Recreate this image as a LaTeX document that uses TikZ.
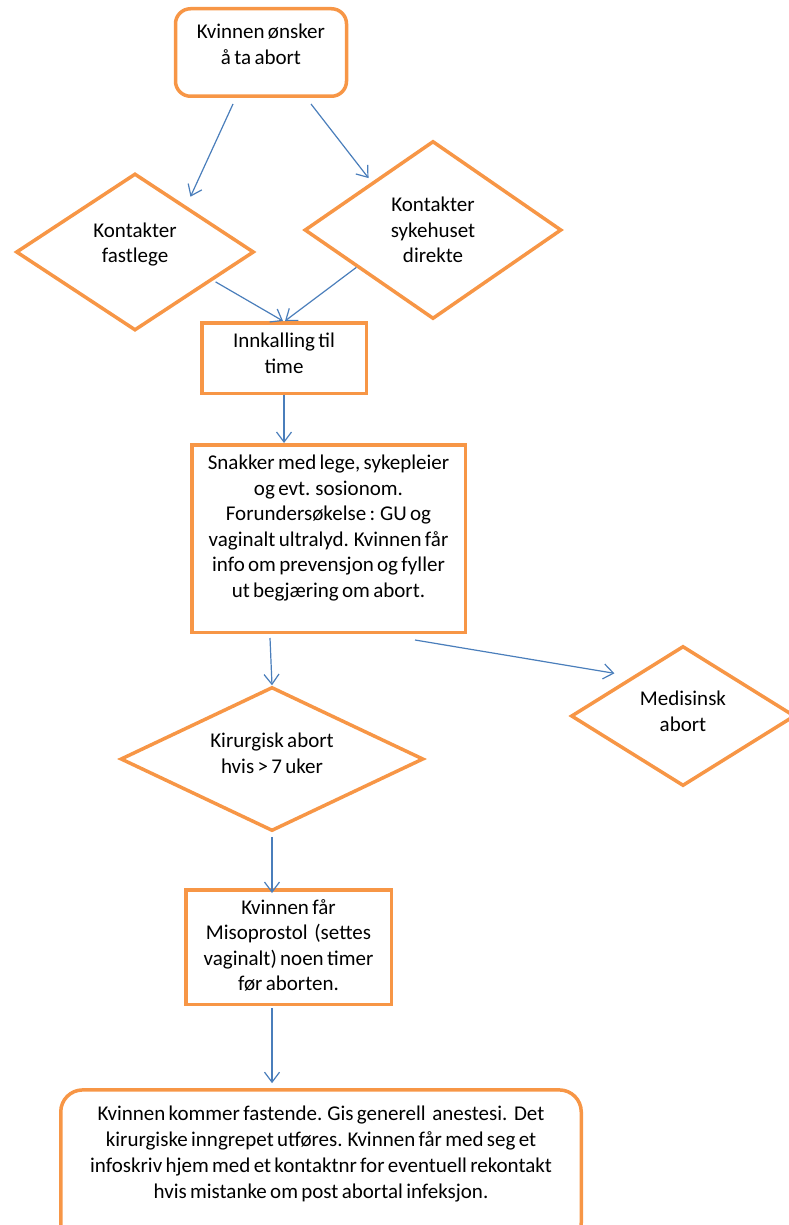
\documentclass[tikz,border=0pt]{standalone}
\usepackage{fontspec}
\setmainfont{Carlito}[WordSpace=0.7]
\usepackage{tikz}
\usetikzlibrary{shapes.geometric, arrows.meta, calc}
\definecolor{flowline}{HTML}{F79646}
\definecolor{flowarrow}{HTML}{4A7EBB}

\begin{document}
\begin{tikzpicture}[x=1pt, y=-1pt,
		>={Straight Barb[length=10pt,width=15pt]},
		box/.style={rectangle, draw=flowline, line width=3.5pt, inner sep=0pt, align=center,
			font=\fontsize{21}{25.5}\selectfont},
		roundbox/.style={box, rounded corners=15pt},
		choice/.style={diamond, draw=flowline, line width=3.5pt, inner sep=0pt, align=center,
			font=\fontsize{21}{25.5}\selectfont},
		arr/.style={->, draw=flowarrow, line width=1.2pt}]
		
		\useasboundingbox (0,0) rectangle (789,1225);
		\clip (0,0) rectangle (789,1225);
		
		% boxes and choices, placed at pixel positions (y runs down)
		\node[roundbox, minimum width=171pt, minimum height=87.5pt, text depth=16.7pt] (start) at (261,52.5) {Kvinnen ønsker\\å ta abort};
		\node[choice, minimum width=238pt, minimum height=157pt, aspect=1.53, text depth=18.5pt] (fast) at (135,252) {Kontakter\\fastlege};
		\node[choice, minimum width=257pt, minimum height=178pt, aspect=1.45, text depth=0.5pt] (syk) at (433,230) {Kontakter\\sykehuset\\direkte};
		\node[box, minimum width=164.5pt, minimum height=70.5pt, text depth=9.7pt] (inn) at (284,358) {Innkalling til\\time};
		\node[box, minimum width=273.5pt, minimum height=187.5pt, text depth=24.7pt] (snak) at (328.5,538.5) {Snakker med lege, sykepleier\\og evt. sosionom.\\Forundersøkelse : GU og\\vaginalt ultralyd. Kvinnen får\\info om prevensjon og fyller\\ut begjæring om abort.};
		\node[choice, minimum width=303pt, minimum height=144pt, aspect=2.1, text depth=11.5pt] (kir) at (272,759) {Kirurgisk abort\\hvis > 7 uker};
		\node[choice, minimum width=224pt, minimum height=140pt, aspect=1.6, text depth=9.5pt] (med) at (683,716) {Medisinsk\\abort};
		\node[box, minimum width=205.5pt, minimum height=114.5pt, text depth=3.7pt] (miso) at (288.5,947) {Kvinnen får\\Misoprostol\ \ (settes\\vaginalt) noen timer\\før aborten.};
		\node[roundbox, rounded corners=22pt, minimum width=520.5pt, minimum height=155pt, text depth=31.3pt,
			font=\fontsize{21}{26}\selectfont] (fin) at (321,1167.4) {Kvinnen kommer fastende. Gis generell\ \ anestesi.\ \ Det\\kirurgiske inngrepet utføres. Kvinnen får med seg et\\infoskriv hjem med et kontaktnr for eventuell rekontakt\\hvis mistanke om post abortal infeksjon.};
		
		% connectors
		\draw[arr, shorten >=10pt] ([xshift=-28pt,yshift=-6pt]start.south) -- (fast.42);
		\draw[arr, shorten >=5pt] ([xshift=50pt,yshift=-6pt]start.south) -- (syk.142);
		\draw[arr, shorten <=3pt] (fast.-20) -- ([xshift=-1pt]inn.north);
		\draw[arr] (syk.206) -- ([xshift=1pt]inn.north);
		\draw[arr] (inn.south) -- (inn.south |- snak.north);
		\draw[arr] ([xshift=-58.5pt,yshift=-4pt]snak.south) -- (kir.north);
		\draw[arr, shorten >=18pt] ([xshift=86.5pt,yshift=-6pt]snak.south) -- (med.142);
		\draw[arr, shorten <=4pt, shorten >=-5pt] (kir.south) -- (kir.south |- miso.north);
		\draw[arr, shorten <=2pt, shorten >=5pt] (kir.south |- miso.south) -- (kir.south |- fin.north);
\end{tikzpicture}
\end{document}
